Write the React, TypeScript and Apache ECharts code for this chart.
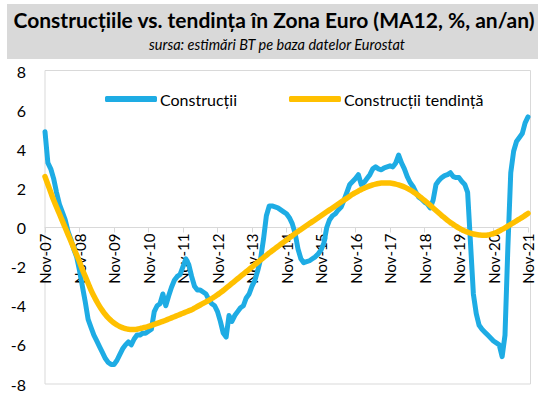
import React, { useEffect, useRef } from "react";
import * as echarts from "echarts";

const monthNames = ["Jan", "Feb", "Mar", "Apr", "May", "Jun", "Jul", "Aug", "Sep", "Oct", "Nov", "Dec"];
const categories: string[] = [];
for (let k = 0; k <= 168; k++) {
  const m = (10 + k) % 12;
  const y = 2007 + Math.floor((10 + k) / 12);
  categories.push(monthNames[m] + "-" + String(y % 100).padStart(2, "0"));
}

const yTicks = { min: -8, max: 8, interval: 2 };

const constructii = [
  4.9, 3.3, 3.0, 2.5, 1.8, 1.2, 0.8, 0.4, -0.2, -0.6, -1.1, -1.5,
  -2.2, -3.0, -3.8, -4.7, -5.1, -5.5, -5.8, -6.1, -6.4, -6.7, -6.9, -7.0,
  -7.0, -6.8, -6.5, -6.2, -6.0, -5.85, -6.0, -5.7, -5.5, -5.5, -5.4, -5.4,
  -5.3, -5.2, -4.3, -4.0, -3.9, -3.4, -4.0, -3.5, -3.05, -2.7, -2.5, -2.4,
  -2.0, -1.6, -1.9, -2.5, -3.0, -3.2, -3.2, -3.3, -3.4, -3.7, -3.9, -4.0,
  -4.3, -4.8, -5.4, -5.6, -4.5, -4.8, -4.5, -4.3, -4.1, -4.0, -3.6, -3.4,
  -3.0, -2.7, -2.2, -1.6, -0.6, 0.6, 1.1, 1.1, 1.05, 1.0, 0.9, 0.8,
  0.7, 0.5, 0.2, -0.3, -1.1, -1.6, -1.8, -1.75, -1.7, -1.6, -1.5, -1.35,
  -1.15, -0.8, 0.0, 0.4, 0.6, 0.7, 0.9, 1.05, 1.4, 1.8, 2.2, 2.35,
  2.5, 2.7, 2.2, 2.3, 2.5, 2.7, 3.0, 3.1, 3.0, 2.95, 3.05, 3.1,
  3.15, 3.1, 3.3, 3.7, 3.3, 3.0, 2.6, 2.3, 2.1, 1.8, 1.55, 1.45,
  1.3, 1.2, 1.0, 1.4, 2.2, 2.4, 2.55, 2.65, 2.7, 2.8, 2.6, 2.55,
  2.55, 2.35, 2.2, 1.8, -0.8, -3.4, -4.4, -5.0, -5.2, -5.35, -5.5, -5.65,
  -5.8, -5.9, -6.0, -6.6, -5.5, -1.0, 2.8, 3.9, 4.4, 4.6, 4.8, 5.35,
  5.65,
];

const tendinta = [
  2.6, 2.2, 1.8, 1.4, 1.05, 0.7, 0.35, 0.0, -0.35, -0.7, -1.05, -1.4,
  -1.75, -2.15, -2.5, -2.85, -3.2, -3.5, -3.78, -4.03, -4.25, -4.45, -4.62, -4.76,
  -4.88, -4.98, -5.06, -5.12, -5.17, -5.2, -5.22, -5.22, -5.2, -5.17, -5.13, -5.1,
  -5.05, -5.0, -4.95, -4.9, -4.85, -4.8, -4.74, -4.68, -4.62, -4.56, -4.5, -4.44,
  -4.38, -4.32, -4.26, -4.2, -4.12, -4.04, -3.96, -3.88, -3.8, -3.72, -3.63, -3.54,
  -3.44, -3.33, -3.22, -3.1, -2.98, -2.86, -2.74, -2.62, -2.5, -2.38, -2.26, -2.14,
  -2.02, -1.9, -1.78, -1.66, -1.54, -1.42, -1.3, -1.19, -1.08, -0.97, -0.86, -0.75,
  -0.64, -0.53, -0.42, -0.31, -0.2, -0.1, 0.0, 0.1, 0.2, 0.3, 0.4, 0.5,
  0.6, 0.7, 0.8, 0.9, 1.0, 1.1, 1.2, 1.3, 1.4, 1.5, 1.6, 1.7,
  1.78, 1.86, 1.94, 2.01, 2.07, 2.13, 2.18, 2.22, 2.25, 2.27, 2.28, 2.28,
  2.27, 2.25, 2.22, 2.18, 2.13, 2.07, 2.0, 1.92, 1.83, 1.73, 1.62, 1.5,
  1.38, 1.26, 1.13, 1.0, 0.87, 0.74, 0.61, 0.49, 0.37, 0.26, 0.16, 0.06,
  -0.03, -0.11, -0.18, -0.24, -0.29, -0.33, -0.36, -0.38, -0.39, -0.39, -0.38, -0.35,
  -0.31, -0.25, -0.18, -0.1, -0.02, 0.07, 0.16, 0.25, 0.34, 0.43, 0.52, 0.62,
  0.72,
];

const seriesNames = ["Construcții", "Construcții tendință"];
const titleText = "Construcțiile vs. tendința în Zona Euro (MA12, %, an/an)";
const subtitleText = "sursa: estimări BT pe baza datelor Eurostat";

export default function App() {
  const ref = useRef<HTMLDivElement>(null);
  useEffect(() => {
    if (!ref.current) return;
    const chart = echarts.init(ref.current, undefined, { renderer: "svg" });
    const font = "Lato, 'Noto Sans', sans-serif";
    const gridTop = 71;
    const gridHeight = 313;
    chart.setOption({
      animation: false,
      backgroundColor: "#ffffff",
      graphic: [
        { type: "rect", shape: { x: 7, y: 4, width: 531, height: 55 }, style: { fill: "#d9d9d9" }, z: -1 },
        { type: "rect", shape: { x: 45, y: 70.5, width: 485.5, height: 313.5 }, style: { fill: "none", stroke: "#d9d9d9", lineWidth: 1 }, z: -1 },
        {
          type: "text", x: 274, y: 19,
          style: { text: titleText, fontFamily: font, fontWeight: "bold", fontSize: 21, fill: "#000", align: "center", verticalAlign: "middle" },
        },
        {
          type: "text", x: 277, y: 44,
          style: { text: subtitleText, fontFamily: font, fontStyle: "italic", fontSize: 14.5, fill: "#000", align: "center", verticalAlign: "middle" },
        },
      ],
      legend: {
        data: seriesNames,
        left: 100,
        top: 86,
        icon: "roundRect",
        itemWidth: 52,
        itemHeight: 6,
        itemGap: 52,
        textStyle: { fontFamily: font, fontSize: 16, color: "#000", padding: [0, 0, 0, -2] },
      },
      grid: { left: 45, top: gridTop, width: 483, height: gridHeight, containLabel: false, outerBoundsMode: "none" },
      xAxis: {
        type: "category",
        data: categories,
        boundaryGap: false,
        position: "bottom",
        offset: -gridHeight / 2,
        axisLine: { onZero: false, lineStyle: { color: "#d9d9d9", width: 1 } },
        axisTick: { show: true, interval: 11, length: 5, lineStyle: { color: "#d9d9d9" } },
        axisLabel: { interval: 11, rotate: 90, margin: 6, fontFamily: font, fontSize: 15, color: "#000" },
        splitLine: { show: false },
      },
      yAxis: {
        type: "value",
        min: yTicks.min,
        max: yTicks.max,
        interval: yTicks.interval,
        axisLine: { show: false },
        axisTick: { show: false },
        splitLine: { show: false },
        axisLabel: { margin: 19, fontFamily: font, fontSize: 16, color: "#000" },
      },
      series: [
        {
          name: seriesNames[0], type: "line", data: constructii, showSymbol: false, smooth: false,
          lineStyle: { color: "#1eace4", width: 5, cap: "round", join: "round" }, itemStyle: { color: "#1eace4" },
        },
        {
          name: seriesNames[1], type: "line", data: tendinta, showSymbol: false, smooth: true,
          lineStyle: { color: "#ffc000", width: 5.5, cap: "round", join: "round" }, itemStyle: { color: "#ffc000" },
        },
      ],
    });
    return () => chart.dispose();
  }, []);
  return <div ref={ref} style={{ width: 550, height: 396, position: "absolute", left: 0, top: 0 }} />;
}
